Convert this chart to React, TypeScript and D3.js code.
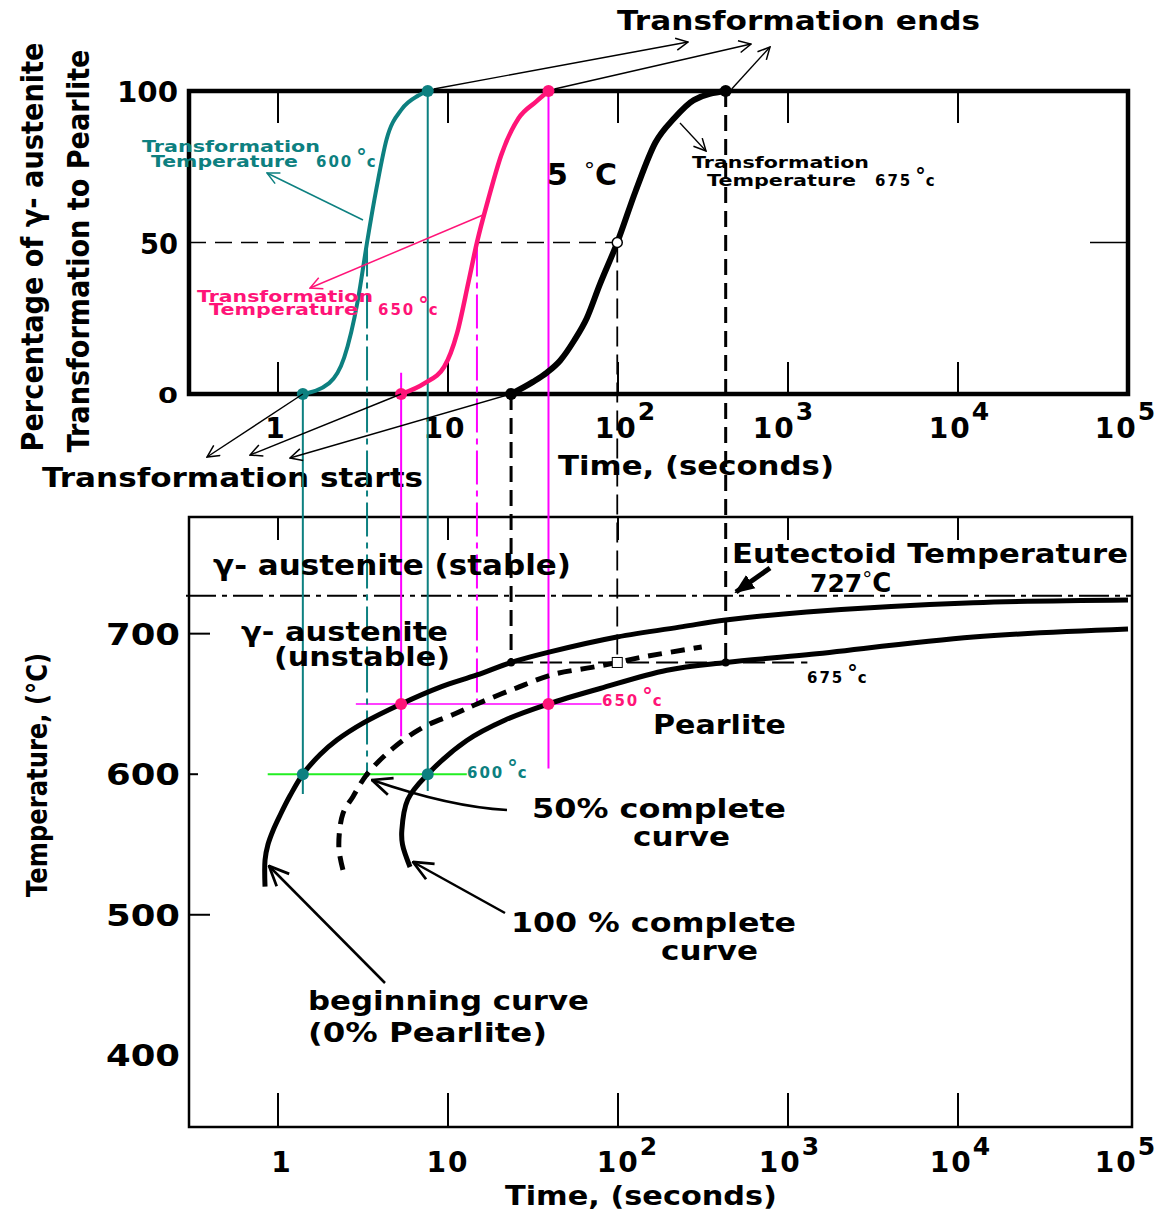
import React from "react";
import * as d3 from "d3";

const W = 1159;
const H = 1214;

// ---------- data ----------
const timeTicks = [1, 10, 100, 1000, 10000, 100000];
const timeTickBase = ["1", "10", "10", "10", "10", "10"];
const timeTickExp = ["", "", "2", "3", "4", "5"];
const pctTicks = [0, 50, 100];
const pctTickLabels = ["0", "50", "100"];
const tempTicks = [400, 500, 600, 700];
const tempTickLabels = ["400", "500", "600", "700"];

const isoLabels = ["600", "650", "675"];
const isoTemps = [600, 650, 679.5]; // where the isotherm lines sit on the temperature axis
const startTimes = [1.4, 5.3, 23.5];
const halfTimes = [3.34, 14.8, 99];
const endTimes = [7.6, 39, 430];
const eutectoidTemp = 727;

// percent transformed vs time (top chart)
const curve600: [number, number][] = [
  [1.4, 0], [2.0, 3.6], [2.45, 12], [2.95, 31], [3.34, 50], [3.8, 68], [4.35, 84], [5.35, 94], [6.7, 98.5], [7.6, 100],
];
const curve650: [number, number][] = [
  [5.3, 0], [7.3, 3.6], [9.5, 9], [11.3, 20], [13.2, 37], [14.8, 50], [17.2, 64], [20.6, 79], [26, 91], [33, 96.5], [39, 100],
];
const curve675: [number, number][] = [
  [23.5, 0], [31.6, 4], [38, 7], [45.6, 11], [55, 17.5], [65.5, 25], [78, 36], [99, 50], [127, 67], [166, 83], [214, 91], [279, 97], [430, 100],
];

// TTT curves (time, temperature) (bottom chart)
const beginCurve: [number, number][] = [
  [0.839, 520], [0.839, 539], [0.873, 550], [0.935, 560], [1.03, 571], [1.18, 585], [1.4, 600], [1.77, 614],
  [2.22, 624.3], [3.2, 636.7], [5.3, 650], [9, 662], [14.8, 670.6], [23.5, 679.5], [39.8, 687], [98.6, 697.6],
  [240, 705], [430, 709.7], [1290, 715.4], [12300, 722], [100000, 724],
];
const halfCurve: [number, number][] = [
  [2.41, 532], [2.28, 548], [2.41, 572], [2.76, 584], [3.34, 600], [4.7, 618], [7.04, 633], [11, 643], [14.8, 650],
  [24.8, 661], [41.5, 671], [70, 676], [99, 679.5], [134, 683], [311, 690.5],
];
const fullCurve: [number, number][] = [
  [5.98, 534], [5.4, 550], [5.35, 560], [5.8, 582], [7.6, 600], [12.9, 624], [21.7, 638.6], [39, 650], [78.5, 661],
  [194, 674], [430, 679.5], [1290, 685], [12300, 697.6], [100000, 703.3],
];

// ---------- scales ----------
const x = d3.scaleLog().domain([1, 100000]).range([278, 1128]);
const yTop = d3.scaleLinear().domain([0, 100]).range([394, 91]);
const yBot = d3.scaleLinear().domain([349, 783]).range([1127, 517]);

const topLine = d3
  .line<[number, number]>()
  .x((d) => x(d[0]))
  .y((d) => yTop(d[1]))
  .curve(d3.curveMonotoneX);
const botLine = d3
  .line<[number, number]>()
  .x((d) => x(d[0]))
  .y((d) => yBot(d[1]))
  .curve(d3.curveCatmullRom.alpha(0.5));

const FONT = "'DejaVu Sans', Verdana, sans-serif";
const TEAL = "#0d8080";
const PINK = "#ff1478";
const MAGENTA = "#ff00ff";
const GREEN = "#22ee22";

type TxtProps = {
  x: number;
  y: number;
  s: string;
  size: number;
  len?: number;
  fill?: string;
  anchor?: "start" | "middle" | "end";
  rotate?: number;
};
const Txt = ({ x, y, s, size, len, fill = "#000", anchor = "start", rotate }: TxtProps) => (
  <text
    x={x}
    y={y}
    fontFamily={FONT}
    fontWeight="bold"
    fontSize={size}
    fill={fill}
    textAnchor={anchor}
    textLength={len}
    lengthAdjust={len ? "spacingAndGlyphs" : undefined}
    transform={rotate ? `rotate(${rotate} ${x} ${y})` : undefined}
  >
    {s}
  </text>
);

// "650 °c" style small labels
const Deg = ({ x, y, num, fill }: { x: number; y: number; num: string; fill: string }) => (
  <text x={x} y={y} fontFamily={FONT} fontWeight="bold" fontSize={15} fill={fill} letterSpacing={2}>
    {num}
    <tspan dx={3} dy={-3} fontSize={21} letterSpacing={0}>
      °
    </tspan>
    <tspan dy={3} fontSize={15}>
      c
    </tspan>
  </text>
);

export default function App() {
  const topFrame = { x0: 189, x1: 1128, y0: yTop(100), y1: yTop(0) };
  const botFrame = { x0: 189, x1: 1132, y0: 517, y1: 1127 };
  const colors = [TEAL, PINK, "#000"];
  const topXOff = [-2, -3, 8, -4, 2, -2];
  const botXOff = [4, 0, 10, 2, 3, -2];

  return (
    <svg width={W} height={H} style={{ position: "absolute", left: 0, top: 0, background: "#fff" }}>
      <defs>
        {[
          ["arrBlack", "#000"],
          ["arrTeal", TEAL],
          ["arrPink", PINK],
        ].map(([id, c]) => (
          <marker key={id} id={id} viewBox="0 0 14 14" refX="13" refY="7" markerWidth="14" markerHeight="14" markerUnits="userSpaceOnUse" orient="auto">
            <path d="M1,1 L13,7 L1,13" fill="none" stroke={c} strokeWidth="1.5" />
          </marker>
        ))}
        <marker id="arrBig" viewBox="0 0 20 20" refX="19" refY="10" markerWidth="22" markerHeight="22" markerUnits="userSpaceOnUse" orient="auto">
          <path d="M1,2 L19,10 L1,18" fill="none" stroke="#000" strokeWidth="2.5" />
        </marker>
        <marker id="arrFill" viewBox="0 0 20 20" refX="18" refY="10" markerWidth="20" markerHeight="20" markerUnits="userSpaceOnUse" orient="auto">
          <path d="M0,2 L20,10 L0,18 Z" fill="#000" />
        </marker>
      </defs>

      {/* ================= TOP CHART ================= */}
      <rect x={topFrame.x0} y={topFrame.y0} width={topFrame.x1 - topFrame.x0} height={topFrame.y1 - topFrame.y0} fill="none" stroke="#000" strokeWidth={4.5} />
      {timeTicks.slice(0, 5).map((t) => (
        <g key={"tt" + t}>
          <line x1={x(t)} x2={x(t)} y1={topFrame.y0} y2={topFrame.y0 + 32} stroke="#000" strokeWidth={2} />
          <line x1={x(t)} x2={x(t)} y1={topFrame.y1} y2={topFrame.y1 - 32} stroke="#000" strokeWidth={2} />
        </g>
      ))}
      {/* 50% guide */}
      <line x1={topFrame.x0} x2={x(halfTimes[2])} y1={yTop(50)} y2={yTop(50)} stroke="#000" strokeWidth={1.6} strokeDasharray="17,9" />
      <line x1={1090} x2={topFrame.x1} y1={yTop(50)} y2={yTop(50)} stroke="#000" strokeWidth={1.6} />

      {/* y tick labels */}
      {pctTicks.map((p, i) => (
        <Txt
          key={"pl" + p}
          x={178}
          y={yTop(p) + (p === 0 ? 9 : 11)}
          s={pctTickLabels[i]}
          size={p === 0 ? 22 : 28}
          anchor="end"
          len={p === 100 ? 61 : p === 50 ? 38 : 20}
        />
      ))}
      {/* x tick labels top */}
      {timeTicks.map((t, i) => (
        <text key={"xl" + t} x={x(t) + topXOff[i]} y={438} fontFamily={FONT} fontWeight="bold" fontSize={28} textAnchor="middle" letterSpacing={2}>
          {timeTickBase[i]}
          {timeTickExp[i] && (
            <tspan dy={-18} fontSize={25}>
              {timeTickExp[i]}
            </tspan>
          )}
        </text>
      ))}

      {/* y title */}
      <Txt x={43} y={247} s="Percentage of  γ- austenite" size={30} anchor="middle" rotate={-90} len={409} />
      <Txt x={89} y={251} s="Transformation to Pearlite" size={30} anchor="middle" rotate={-90} len={403} />
      <Txt x={558} y={475} s="Time, (seconds)" size={26} len={276} />
      <Txt x={617} y={30} s="Transformation ends" size={26} len={363} />
      <Txt x={42} y={487} s="Transformation starts" size={26} len={381} />

      {/* ================= BOTTOM CHART ================= */}
      <rect x={botFrame.x0} y={botFrame.y0} width={botFrame.x1 - botFrame.x0} height={botFrame.y1 - botFrame.y0} fill="none" stroke="#000" strokeWidth={2.5} />
      {timeTicks.slice(0, 5).map((t) => (
        <g key={"bt" + t}>
          <line x1={x(t)} x2={x(t)} y1={botFrame.y0} y2={botFrame.y0 + 23} stroke="#000" strokeWidth={2} />
          <line x1={x(t)} x2={x(t)} y1={botFrame.y1} y2={botFrame.y1 - 34} stroke="#000" strokeWidth={2} />
        </g>
      ))}
      {tempTicks.map((T, i) => (
        <g key={"yt" + T}>
          {T !== 400 && (
            <line x1={botFrame.x0} x2={botFrame.x0 + (T === 600 ? 9 : 21)} y1={yBot(T)} y2={yBot(T)} stroke="#000" strokeWidth={2} />
          )}
          <Txt x={180} y={yBot(T) + 11} s={tempTickLabels[i]} size={30} anchor="end" len={74} />
        </g>
      ))}
      {timeTicks.map((t, i) => (
        <text key={"bxl" + t} x={x(t) + botXOff[i]} y={1172} fontFamily={FONT} fontWeight="bold" fontSize={28} textAnchor="middle" letterSpacing={2}>
          {timeTickBase[i]}
          {timeTickExp[i] && (
            <tspan dy={-17} fontSize={25}>
              {timeTickExp[i]}
            </tspan>
          )}
        </text>
      ))}
      <Txt x={505} y={1205} s="Time, (seconds)" size={26} len={272} />
      <Txt x={47} y={775} s="Temperature, (°C)" size={28} anchor="middle" rotate={-90} len={244} />

      {/* eutectoid */}
      <line x1={186} x2={botFrame.x1} y1={yBot(eutectoidTemp)} y2={yBot(eutectoidTemp)} stroke="#000" strokeWidth={2} strokeDasharray="30,6,5,6" />

      {/* isotherm horizontal lines */}
      <line x1={x(0.87)} x2={x(12.9)} y1={yBot(isoTemps[0])} y2={yBot(isoTemps[0])} stroke={GREEN} strokeWidth={2} />
      <line x1={x(2.87)} x2={x(80)} y1={yBot(isoTemps[1])} y2={yBot(isoTemps[1])} stroke={MAGENTA} strokeWidth={1.6} />
      <line x1={x(startTimes[2])} x2={x(1300)} y1={yBot(isoTemps[2])} y2={yBot(isoTemps[2])} stroke="#000" strokeWidth={2} strokeDasharray="22,7" />

      {/* vertical projection lines */}
      <line x1={x(startTimes[0])} x2={x(startTimes[0])} y1={yTop(0)} y2={yBot(586)} stroke={TEAL} strokeWidth={2} />
      <line x1={x(halfTimes[0])} x2={x(halfTimes[0])} y1={yTop(50)} y2={yBot(600)} stroke={TEAL} strokeWidth={2} strokeDasharray="34,6,6,6" />
      <line x1={x(endTimes[0])} x2={x(endTimes[0])} y1={yTop(100)} y2={yBot(588)} stroke={TEAL} strokeWidth={2} />
      <line x1={x(startTimes[1])} x2={x(startTimes[1])} y1={yTop(7)} y2={yBot(627)} stroke={MAGENTA} strokeWidth={2} />
      <line x1={x(halfTimes[1])} x2={x(halfTimes[1])} y1={yTop(50)} y2={yBot(650)} stroke={MAGENTA} strokeWidth={2} strokeDasharray="34,6,6,6" />
      <line x1={x(endTimes[1])} x2={x(endTimes[1])} y1={yTop(100)} y2={yBot(604)} stroke={MAGENTA} strokeWidth={2} />
      <line x1={x(startTimes[2])} x2={x(startTimes[2])} y1={yTop(0)} y2={yBot(isoTemps[2])} stroke="#000" strokeWidth={3} strokeDasharray="16,8" />
      <line x1={x(halfTimes[2])} x2={x(halfTimes[2])} y1={yTop(50)} y2={yBot(isoTemps[2])} stroke="#000" strokeWidth={1.8} strokeDasharray="20,8" />
      <line x1={x(endTimes[2])} x2={x(endTimes[2])} y1={yTop(100)} y2={yBot(isoTemps[2])} stroke="#000" strokeWidth={3} strokeDasharray="16,8" />

      {/* top curves */}
      <path d={topLine(curve600) || ""} fill="none" stroke={TEAL} strokeWidth={4} />
      <path d={topLine(curve650) || ""} fill="none" stroke={PINK} strokeWidth={4.5} />
      <path d={topLine(curve675) || ""} fill="none" stroke="#000" strokeWidth={6} />

      {/* bottom curves */}
      <path d={botLine(beginCurve) || ""} fill="none" stroke="#000" strokeWidth={5} />
      <path d={botLine(halfCurve) || ""} fill="none" stroke="#000" strokeWidth={5} strokeDasharray="14,9" />
      <path d={botLine(fullCurve) || ""} fill="none" stroke="#000" strokeWidth={5} />

      {/* dots */}
      {isoTemps.map((T, i) => (
        <g key={"dots" + i}>
          <circle cx={x(startTimes[i])} cy={yTop(0)} r={6} fill={colors[i]} />
          <circle cx={x(endTimes[i])} cy={yTop(100)} r={6} fill={colors[i]} />
          <circle cx={x(startTimes[i])} cy={yBot(T)} r={i === 2 ? 4 : 6} fill={colors[i]} />
          <circle cx={x(endTimes[i])} cy={yBot(T)} r={i === 2 ? 4 : 6} fill={colors[i]} />
        </g>
      ))}
      <circle cx={x(halfTimes[2])} cy={yTop(50)} r={5} fill="#fff" stroke="#000" strokeWidth={1.5} />
      <rect x={x(halfTimes[2]) - 5} y={yBot(isoTemps[2]) - 5} width={10} height={10} fill="#fff" stroke="#000" strokeWidth={1} />
      <circle cx={x(halfTimes[0])} cy={yBot(600)} r={2.5} fill="#000" />

      {/* top annotations */}
      <text x={547} y={185} fontFamily={FONT} fontWeight="bold" fontSize={30}>
        5
        <tspan dx={16} dy={-7} fontSize={22} fontWeight="normal">
          °
        </tspan>
        <tspan dy={7} fontSize={30}>
          C
        </tspan>
      </text>

      <Txt x={142} y={152} s="Transformation" size={15} len={178} fill={TEAL} />
      <Txt x={151} y={167} s="Temperature" size={15} len={147} fill={TEAL} />
      <Deg x={316} y={167} num={isoLabels[0]} fill={TEAL} />
      <line x1={363} y1={220} x2={267} y2={173} stroke={TEAL} strokeWidth={1.5} markerEnd="url(#arrTeal)" />

      <Txt x={197} y={302} s="Transformation" size={15} len={176} fill={PINK} />
      <Txt x={209} y={315} s="Temperature" size={15} len={149} fill={PINK} />
      <Deg x={378} y={315} num={isoLabels[1]} fill={PINK} />
      <line x1={483} y1={215} x2={310} y2={288} stroke={PINK} strokeWidth={1.5} markerEnd="url(#arrPink)" />

      <Txt x={692} y={168} s="Transformation" size={15} len={177} />
      <Txt x={707} y={186} s="Temperature" size={15} len={149} />
      <Deg x={875} y={186} num={isoLabels[2]} fill="#000" />
      <line x1={680} y1={123} x2={706} y2={151} stroke="#000" strokeWidth={1.3} markerEnd="url(#arrBlack)" />

      {/* ends / starts arrows */}
      {[
        [688, 42],
        [751, 44],
        [770, 47],
      ].map(([ex, ey], i) => (
        <line key={"ea" + i} x1={x(endTimes[i]) + 6} y1={yTop(100) - 2} x2={ex} y2={ey} stroke="#000" strokeWidth={1.4} markerEnd="url(#arrBlack)" />
      ))}
      {[
        [207, 457],
        [250, 455],
        [290, 458],
      ].map(([ex, ey], i) => (
        <line key={"sa" + i} x1={x(startTimes[i])} y1={yTop(0)} x2={ex} y2={ey} stroke="#000" strokeWidth={1.4} markerEnd="url(#arrBlack)" />
      ))}

      {/* bottom annotations */}
      <Txt x={213} y={575} s="γ- austenite (stable)" size={28} len={358} />
      <Txt x={241} y={641} s="γ- austenite" size={26} len={207} />
      <Txt x={274} y={666} s="(unstable)" size={26} len={176} />
      <Txt x={732} y={563} s="Eutectoid Temperature" size={27} len={396} />
      <text x={810} y={592} fontFamily={FONT} fontWeight="bold" fontSize={25}>
        727
        <tspan dy={-6} fontSize={20} fontWeight="normal">
          °
        </tspan>
        <tspan dy={6} fontSize={26}>
          C
        </tspan>
      </text>
      <line x1={770} y1={568} x2={736} y2={592} stroke="#000" strokeWidth={5} markerEnd="url(#arrFill)" />
      <Txt x={653} y={734} s="Pearlite" size={27} len={133} />
      <Deg x={602} y={706} num={isoLabels[1]} fill={PINK} />
      <Deg x={467} y={778} num={isoLabels[0]} fill={TEAL} />
      <Deg x={807} y={683} num={isoLabels[2]} fill="#000" />

      <Txt x={532} y={818} s="50% complete" size={27} len={254} />
      <Txt x={633} y={846} s="curve" size={27} len={97} />
      <path d="M507,810 C470,808 430,800 372,780" fill="none" stroke="#000" strokeWidth={2.5} markerEnd="url(#arrBig)" />

      <Txt x={511} y={932} s="100 % complete" size={27} len={285} />
      <Txt x={661} y={960} s="curve" size={27} len={97} />
      <line x1={505} y1={913} x2={413} y2={862} stroke="#000" strokeWidth={2.5} markerEnd="url(#arrBig)" />

      <Txt x={308} y={1010} s="beginning curve" size={27} len={281} />
      <Txt x={308} y={1042} s="(0% Pearlite)" size={27} len={239} />
      <line x1={385} y1={983} x2={269} y2={866} stroke="#000" strokeWidth={2.5} markerEnd="url(#arrBig)" />
    </svg>
  );
}
